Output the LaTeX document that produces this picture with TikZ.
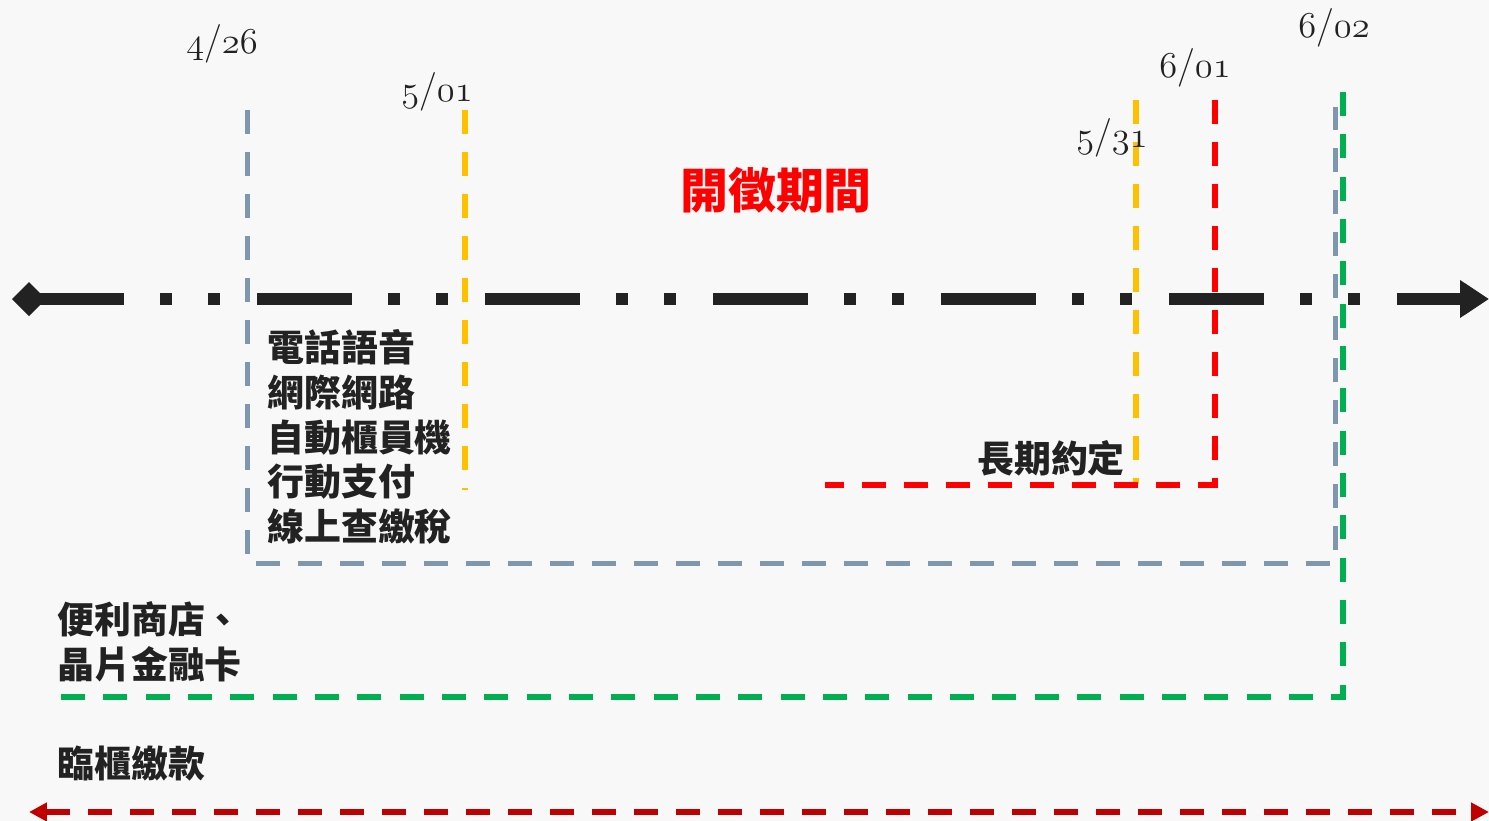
\documentclass[tikz,border=0pt]{standalone}
\usepackage{fontspec}
\newfontfamily\cjk{Noto Sans CJK TC}
\usetikzlibrary{arrows.meta}
\definecolor{bg}{HTML}{F8F8F8}
\definecolor{ink}{HTML}{222222}
\definecolor{grayblue}{HTML}{7F97AE}
\definecolor{amber}{HTML}{FFC000}
\definecolor{redline}{HTML}{FF0000}
\definecolor{greenline}{HTML}{00B050}
\definecolor{darkred}{HTML}{C00000}
\tikzset{
  axis/.style={ink, line width=0.24cm, line cap=butt,
    dash pattern=on 1.9cm off 0.72cm on 0.24cm off 0.72cm on 0.24cm off 0.74cm},
  vline/.style={line width=0.12cm, line cap=butt, dash pattern=on 0.48cm off 0.36cm},
  grayline/.style={vline, grayblue, line width=0.1cm},
  datelabel/.style={inner sep=0, ink, font=\fontsize{22}{26}\selectfont},
  cjklabel/.style={inner sep=0, ink, align=left, font=\cjk\bfseries\fontsize{21}{25.5}\selectfont},
  titlelabel/.style={inner sep=0, redline, font=\cjk\bfseries\fontsize{27.3}{30}\selectfont},
}
\newcommand{\osn}[1]{{\fontencoding{OML}\fontfamily{cmm}\fontseries{m}\fontshape{it}\selectfont #1}}
\begin{document}
\begin{tikzpicture}[x=0.02cm, y=-0.02cm]
\fill[bg] (0,0) rectangle (1489,821);
\useasboundingbox (0,0) rectangle (1489,821);

% coordinates
\coordinate (axL) at (29,299);
\coordinate (axR) at (1489,299);
\coordinate (g1top) at (247,110);
\coordinate (g1bot) at (247,563);
\coordinate (g2bot) at (1335,563);
\coordinate (g2top) at (1335,107);
\coordinate (y1top) at (465,110);
\coordinate (y1bot) at (465,490);
\coordinate (y2top) at (1136,100);
\coordinate (y2bot) at (1136,484);
\coordinate (rtop) at (1215,100);
\coordinate (rcor) at (1215,485);
\coordinate (rleft) at (825,485);
\coordinate (gntop) at (1343,92);
\coordinate (gncor) at (1343,697);
\coordinate (gnleft) at (60,697);
\coordinate (bL) at (29,812);
\coordinate (bR) at (1489,812);

% vertical / bracket lines
\draw[grayline] (g1top) -- (g1bot) -- (g2bot) -- (g2top);
\draw[vline, amber] (y1top) -- (y1bot);
\draw[vline, amber] (y2top) -- (y2bot);
\draw[vline, redline] (rtop) -- (rcor) -- (rleft);
\draw[vline, greenline, dash pattern=on 0.48cm off 0.367cm] (gntop) -- (gncor) -- (gnleft);

% main axis
\draw[axis, -{Triangle[length=0.58cm,width=0.72cm]}] (axL) -- (axR);
\fill[ink] (12,299) -- (29,282) -- (46,299) -- (29,316) -- cycle;

% bottom arrow
\draw[darkred, line width=0.12cm, dash pattern=on 0.48cm off 0.36cm,
  {Triangle[length=0.36cm,width=0.36cm]}-{Triangle[length=0.36cm,width=0.36cm]}] (bL) -- (bR);

% dates
\node[datelabel] (d426) at (222,44) {\osn{4}/\osn{26}};
\node[datelabel] (d501) at (437,92) {\osn{5}/\osn{01}};
\node[datelabel] (d531) at (1112,138) {\osn{5}/\osn{31}};
\node[datelabel] (d601) at (1195,68) {\osn{6}/\osn{01}};
\node[datelabel] (d602) at (1334,28) {\osn{6}/\osn{02}};

% labels
\node[titlelabel] (title) at (776,190) {開徵期間};
\node[cjklabel, anchor=west] (channels) at (267,437) {電話語音\\網際網路\\自動櫃員機\\行動支付\\線上查繳稅};
\node[cjklabel] (longterm) at (1051,458) {長期約定};
\node[cjklabel, anchor=west] (store) at (57,642) {便利商店、\\晶片金融卡};
\node[cjklabel, anchor=west] (counter) at (57,764) {臨櫃繳款};
\end{tikzpicture}
\end{document}
